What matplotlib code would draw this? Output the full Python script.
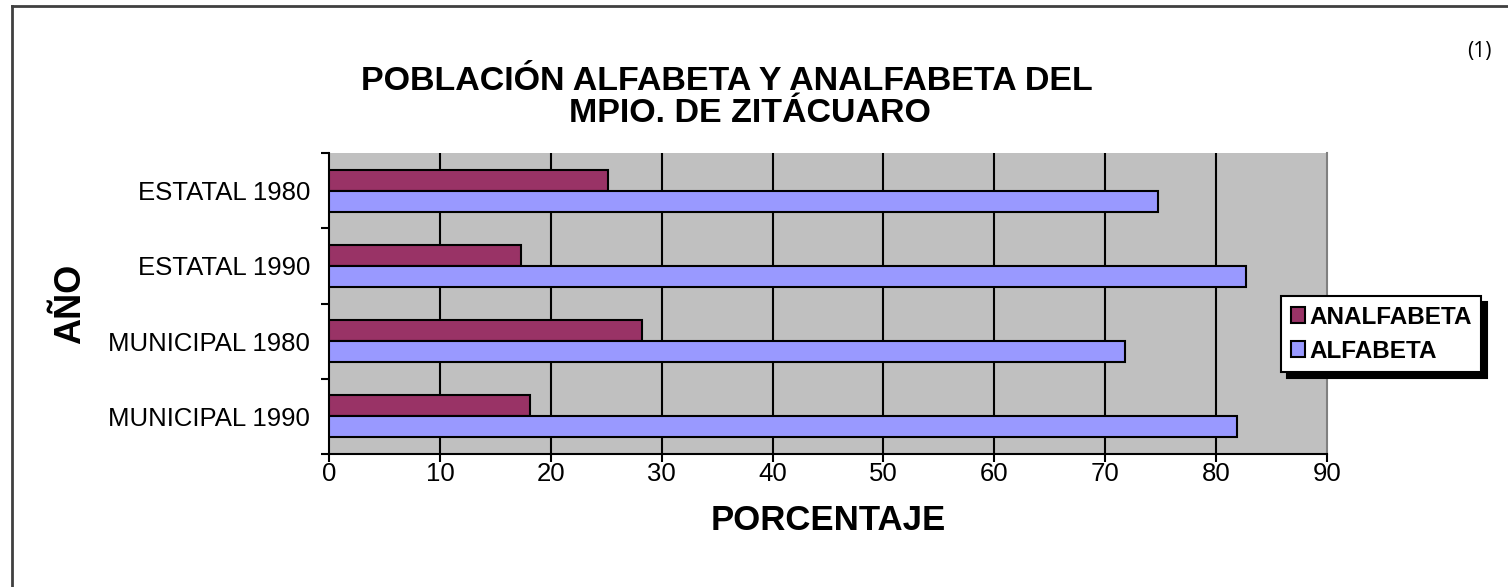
import matplotlib
matplotlib.use("Agg")
import matplotlib.pyplot as plt
from matplotlib.lines import Line2D
import numpy as np

plt.rcParams['font.family'] = ['Liberation Sans', 'DejaVu Sans']

categories = ["ESTATAL 1980", "ESTATAL 1990", "MUNICIPAL 1980", "MUNICIPAL 1990"]
analfabeta = [25.2, 17.3, 28.2, 18.1]
alfabeta = [74.8, 82.7, 71.8, 81.9]
series_names = ["ANALFABETA", "ALFABETA"]
xticks = [0, 10, 20, 30, 40, 50, 60, 70, 80, 90]

W, H = 1508, 587
fig = plt.figure(figsize=(W / 100, H / 100), dpi=100)
fig.patch.set_facecolor('white')

L, R, T, B = 329, 1327, 153, 454
ax = fig.add_axes([L / W, 1 - B / H, (R - L) / W, (B - T) / H])
ax.set_facecolor('#C0C0C0')

y = np.arange(len(categories))
h = 0.28
ax.barh(y - h / 2, analfabeta, height=h, color='#993366', edgecolor='black', linewidth=1.5,
        label=series_names[0], zorder=3)
ax.barh(y + h / 2, alfabeta, height=h, color='#9999FF', edgecolor='black', linewidth=1.5,
        label=series_names[1], zorder=3)

ax.set_xlim(0, 90)
ax.set_ylim(len(categories) - 0.5, -0.5)
ax.set_xticks(xticks)
ax.set_xticklabels([str(v) for v in xticks], fontsize=18.5)
ax.set_yticks(y)
ax.set_yticklabels(categories, fontsize=18.5)
ax.set_yticks(np.arange(len(categories) + 1) - 0.5, minor=True)
ax.tick_params(axis='y', which='major', length=0, pad=13.5)
ax.tick_params(axis='y', which='minor', length=6, width=1.5, direction='out', color='black')
ax.tick_params(axis='x', which='major', length=6, width=1.5, direction='out', color='black', pad=0)

for v in xticks[1:-1]:
    ax.axvline(v, color='black', linewidth=1.5, zorder=1)

ax.spines['top'].set_visible(False)
ax.spines['right'].set_color('#808080')
ax.spines['right'].set_linewidth(1.5)
ax.spines['left'].set_linewidth(1.5)
ax.spines['bottom'].set_linewidth(1.5)

ax.set_xlabel("PORCENTAJE", fontsize=25, fontweight='bold')
ax.xaxis.set_label_coords(0.5, -(521 - B) / (B - T))
ax.xaxis.label.set_va('center')
ax.set_ylabel("AÑO", fontsize=26, fontweight='bold')
ax.yaxis.set_label_coords((71 - L) / (R - L), 0.5)
ax.yaxis.label.set_va('center')

fig.text(727 / W, 1 - 81 / H, "POBLACIÓN ALFABETA Y ANALFABETA DEL",
         ha='center', va='center', fontsize=24.5, fontweight='bold')
fig.text(750 / W, 1 - 114 / H, "MPIO. DE ZITÁCUARO",
         ha='center', va='center', fontsize=24.5, fontweight='bold')
fig.text(1479 / W, 1 - 51 / H, "(1)", ha='center', va='center', fontsize=15,
         family=['Open Sans', 'DejaVu Sans'])

leg = fig.legend(loc='upper left', bbox_to_anchor=(1281 / W, 1 - 296 / H),
                 prop={'weight': 'bold', 'size': 17.5}, frameon=True,
                 fancybox=False, edgecolor='black', handlelength=0.6, handleheight=0.6,
                 handletextpad=0.15, borderpad=0.4, labelspacing=0.45, borderaxespad=0,
                 shadow={'color': 'black', 'alpha': 1, 'ox': 4, 'oy': -4})
leg.get_frame().set_linewidth(1.5)

fig.add_artist(Line2D([12 / W, 12 / W], [0, 1 - 6 / H], color='#404040', linewidth=2,
                      transform=fig.transFigure))
fig.add_artist(Line2D([12 / W, 1], [1 - 6 / H, 1 - 6 / H], color='#404040', linewidth=2,
                      transform=fig.transFigure))

fig.savefig("out.png", dpi=100)
